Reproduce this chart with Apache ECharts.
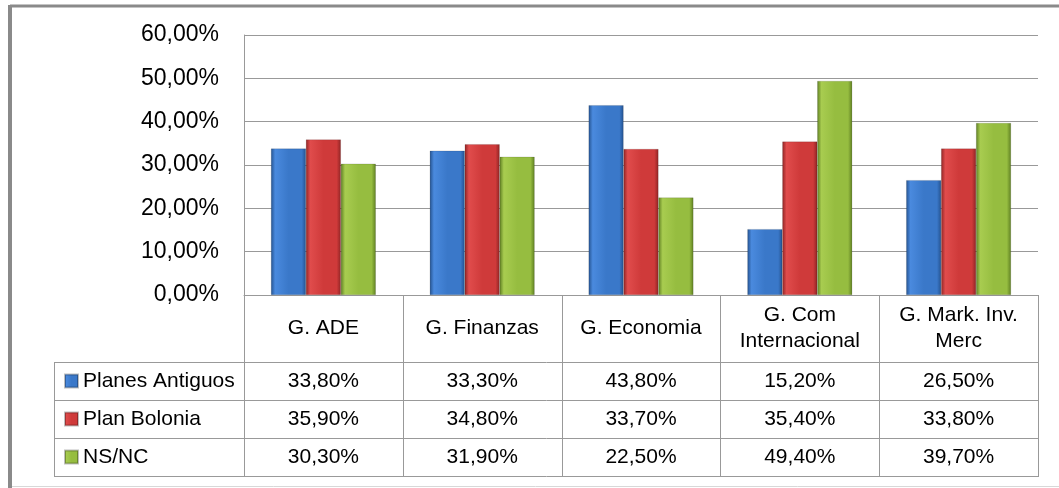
<!DOCTYPE html>
<html>
<head>
<meta charset="utf-8">
<script src="https://cdn.jsdelivr.net/npm/echarts@6/dist/echarts.min.js"></script>
<style>
  html, body { margin: 0; padding: 0; background: #fff; }
  #chart { width: 1059px; height: 488px; }
</style>
</head>
<body>
<div id="chart"></div>
<script>
const categories = ['G. ADE', 'G. Finanzas', 'G. Economia', 'G. Com\nInternacional', 'G. Mark. Inv.\nMerc'];
const seriesNames = ['Planes Antiguos', 'Plan Bolonia', 'NS/NC'];
const planesAntiguos = [33.8, 33.3, 43.8, 15.2, 26.5];
const planBolonia = [35.9, 34.8, 33.7, 35.4, 33.8];
const nsnc = [30.3, 31.9, 22.5, 49.4, 39.7];
const yTicks = [0, 10, 20, 30, 40, 50, 60];

const FONT = 'Liberation Sans';
const GRID = { left: 244, right: 21, top: 35, height: 260 };
const W = 1059;
const plotRight = W - GRID.right;
const plotBottom = GRID.top + GRID.height;
const colW = (plotRight - GRID.left) / categories.length;
const tableLeft = 54;
const catRowBottom = 362;
const rowH = 38;

const fmt = v => v.toFixed(2).replace('.', ',') + '%';

function bevel(dark, mid, light) {
    return new echarts.graphic.LinearGradient(0, 0, 1, 0, [
        { offset: 0, color: dark },
        { offset: 0.12, color: light },
        { offset: 0.5, color: mid },
        { offset: 0.88, color: mid },
        { offset: 1, color: dark }
    ]);
}
const colors = [
    bevel('#24528f', '#3a78c9', '#4a8ade'),
    bevel('#8f2424', '#cf3a3a', '#e04c4c'),
    bevel('#5f7f22', '#96bd40', '#a8cc50')
];
const dataArr = [planesAntiguos, planBolonia, nsnc];

const chart = echarts.init(document.getElementById('chart'));

const graphics = [];
// marco
graphics.push({ type: 'line', shape: { x1: 10, y1: 6, x2: W + 5, y2: 6 }, style: { stroke: '#8a8a8a', lineWidth: 3 } });
graphics.push({ type: 'line', shape: { x1: 10, y1: 5, x2: 10, y2: 488 }, style: { stroke: '#8a8a8a', lineWidth: 4 } });
graphics.push({ type: 'line', shape: { x1: 12, y1: 486.5, x2: W, y2: 486.5 }, style: { stroke: '#d8d8d8', lineWidth: 1 } });

// lineas de la tabla
const lineStyle = { stroke: '#999', lineWidth: 1 };
for (let i = 0; i <= categories.length; i++) {
    const x = Math.round(GRID.left + i * colW) + 0.5;
    graphics.push({ type: 'line', shape: { x1: x, y1: plotBottom, x2: x, y2: catRowBottom + rowH * 3 }, style: lineStyle });
}
graphics.push({ type: 'line', shape: { x1: tableLeft + 0.5, y1: catRowBottom, x2: tableLeft + 0.5, y2: catRowBottom + rowH * 3 }, style: lineStyle });
for (let r = 0; r <= 3; r++) {
    const y = catRowBottom + r * rowH + 0.5;
    graphics.push({ type: 'line', shape: { x1: tableLeft, y1: y, x2: Math.round(plotRight) + 1, y2: y }, style: lineStyle });
}
// valores de la tabla
dataArr.forEach((arr, r) => {
    arr.forEach((v, i) => {
        graphics.push({
            type: 'text',
            x: GRID.left + (i + 0.5) * colW,
            y: catRowBottom + r * rowH + rowH / 2,
            style: { text: fmt(v), font: '21px ' + FONT, fill: '#000', align: 'center', verticalAlign: 'middle' }
        });
    });
});

const option = {
    backgroundColor: '#fff',
    animation: false,
    grid: { left: GRID.left, right: GRID.right, top: GRID.top, height: GRID.height, containLabel: false },
    legend: {
        orient: 'vertical',
        left: 64,
        top: catRowBottom + 7,
        bottom: 0,
        padding: 0,
        itemWidth: 13,
        itemHeight: 13,
        itemGap: 14,
        icon: 'rect',
        textStyle: { fontFamily: FONT, fontSize: 21, lineHeight: 24, color: '#000' },
        data: seriesNames
    },
    xAxis: {
        type: 'category',
        data: categories,
        axisLine: { lineStyle: { color: '#999', width: 1 } },
        axisTick: { show: false },
        axisLabel: {
            interval: 0,
            margin: 33,
            verticalAlign: 'middle',
            fontFamily: FONT,
            fontSize: 21,
            lineHeight: 26,
            color: '#000'
        }
    },
    yAxis: {
        type: 'value',
        min: yTicks[0],
        max: yTicks[yTicks.length - 1],
        interval: 10,
        axisLine: { show: true, lineStyle: { color: '#999', width: 1 } },
        axisTick: { show: false },
        splitLine: { lineStyle: { color: '#999', width: 1 } },
        axisLabel: {
            margin: 25,
            fontFamily: FONT,
            fontSize: 23,
            color: '#000',
            formatter: v => fmt(v)
        }
    },
    series: seriesNames.map((name, k) => ({
        name: name,
        type: 'bar',
        data: dataArr[k],
        barGap: '0%',
        barCategoryGap: '34%',
        itemStyle: { color: colors[k], borderColor: 'rgba(0,0,0,0.25)', borderWidth: 0.5 }
    })),
    graphic: graphics
};

chart.setOption(option);
</script>
</body>
</html>
